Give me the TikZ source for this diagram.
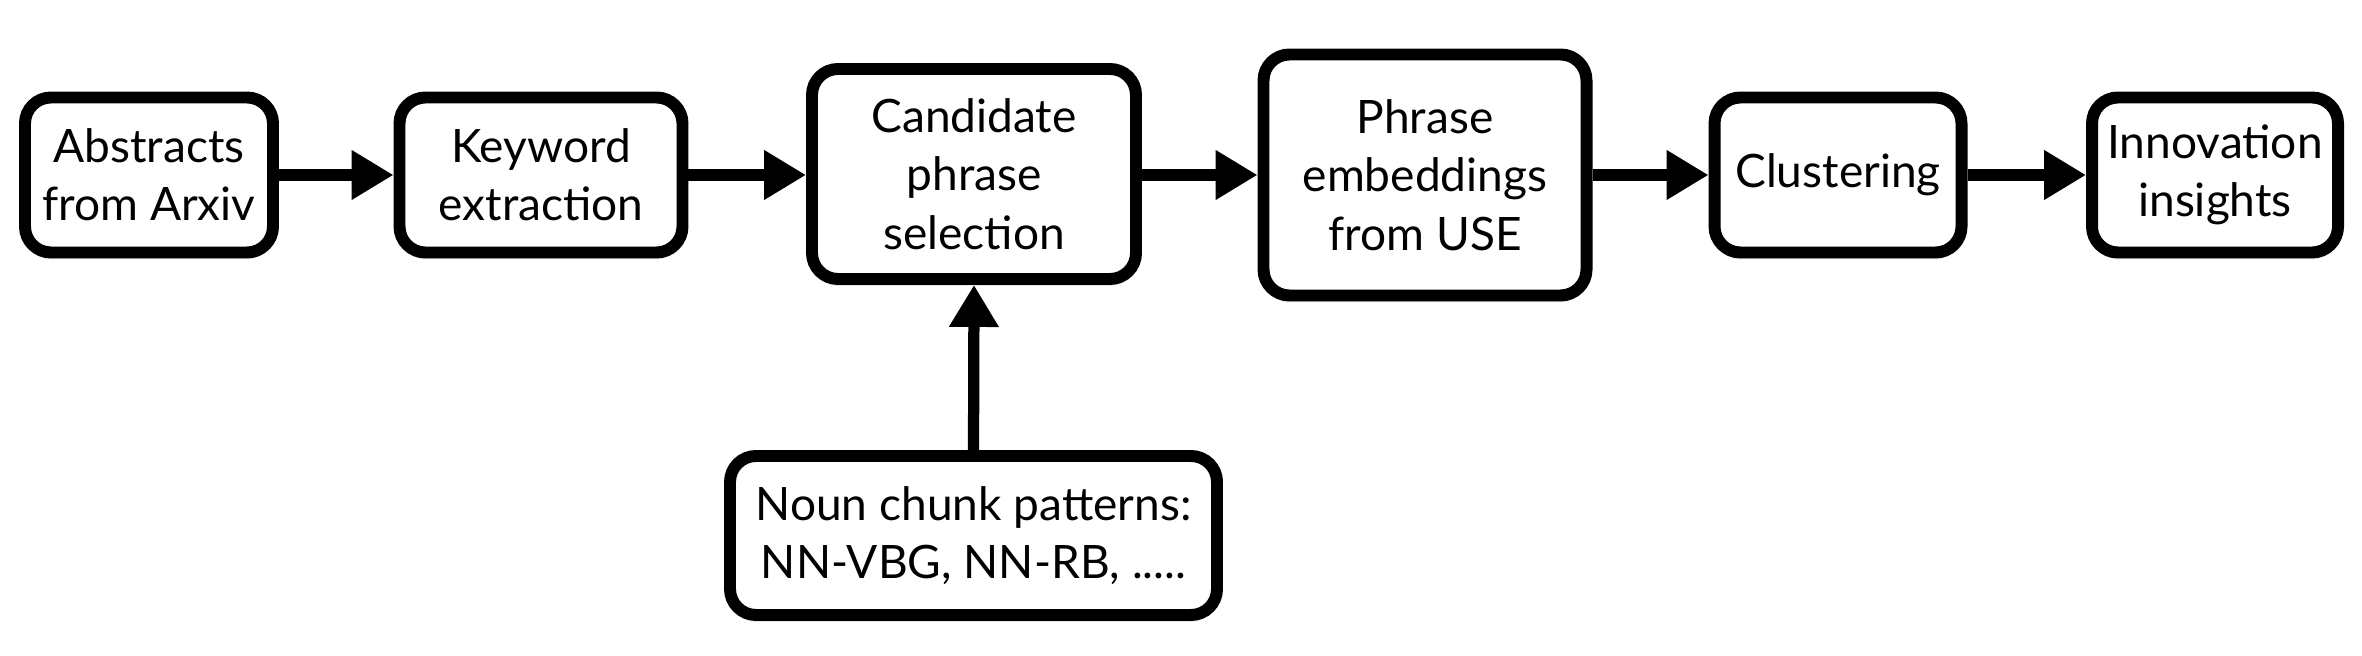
\documentclass[tikz,border=0pt]{standalone}
\usepackage{fontspec}
\setmainfont{Lato}
\usepackage{tikz}
\usetikzlibrary{positioning, arrows.meta, shadows}

\begin{document}
\begin{tikzpicture}[
		block/.style={
			draw,
			line width=3.4pt,
			rounded corners=0.26cm,
			fill=white,
			align=center,
			font=\fontsize{13.1}{16.6}\selectfont,
			drop shadow={shadow xshift=0pt, shadow yshift=-0.07cm, opacity=0.18},
			minimum height=1.55cm,
			minimum width=2.48cm
		},
		arrow/.style={-{Triangle[length=0.42cm, width=0.47cm]}, line width=3.2pt}
		]
		
		\useasboundingbox (0,0) rectangle (23.62,6.56);
		
		% Blocks
		\node[block] at (1.49,4.81) (abstracts) {Abstracts\\from Arxiv};
		\node[block, minimum width=2.83cm] at (5.41,4.81) (keyword) {Keyword\\extraction};
		\node[block, minimum width=3.24cm, minimum height=2.10cm] at (9.74,4.82) (candidate) {Candidate\\phrase\\selection};
		\node[block, minimum width=3.23cm, minimum height=2.41cm] at (14.25,4.81) (embedding) {Phrase\\embeddings\\from USE};
		\node[block, minimum width=2.47cm] at (18.38,4.81) (clustering) {Clustering};
		\node[block, minimum width=2.46cm] at (22.15,4.81) (insights) {Innovation\\insights};
		
		% Noun chunk input
		\node[block, minimum width=4.87cm, minimum height=1.59cm] at (9.735,1.205) (patterns) {Noun chunk patterns:\\NN-VBG, NN-RB, .....};
		
		% Arrows
		\draw[arrow] (abstracts.east) -- (keyword.west);
		\draw[arrow] (keyword.east) -- (candidate.west |- keyword.east);
		\draw[arrow] (candidate.east |- keyword.east) -- (embedding.west |- keyword.east);
		\draw[arrow] (embedding.east |- keyword.east) -- (clustering.west);
		\draw[arrow] (clustering.east) -- (insights.west);
		\draw[arrow] (patterns.north) -- (candidate.south);
		
	\end{tikzpicture}
\end{document}
